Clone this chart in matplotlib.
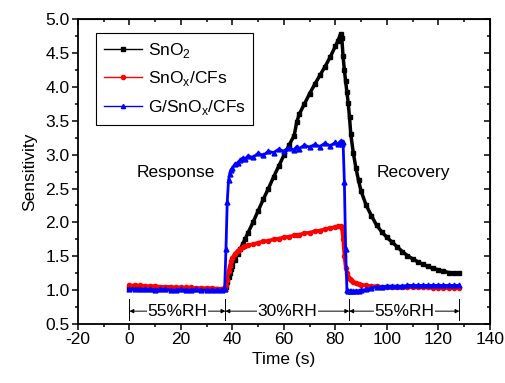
import matplotlib
matplotlib.use("Agg")
import matplotlib.pyplot as plt
from matplotlib.lines import Line2D
from matplotlib.ticker import MultipleLocator

plt.rcParams['font.family'] = ['Liberation Sans', 'DejaVu Sans']
plt.rcParams['mathtext.fontset'] = 'custom'
plt.rcParams['mathtext.rm'] = 'Liberation Sans'
plt.rcParams['axes.unicode_minus'] = False

# time axis (s)
t = [0, 2, 4, 6, 8, 10, 12, 14, 16, 18, 20, 22, 24, 26, 28, 30, 32, 34, 36,
     37, 37.5, 38, 38.5, 39, 39.5, 40, 41, 42, 43, 44, 45, 46,
     48, 50, 52, 54, 56, 58, 60, 62, 64, 65, 66, 68, 70, 72, 74, 76, 78, 80,
     81, 82, 82.5, 83, 83.5, 84, 84.5, 85, 85.5, 86, 87, 88, 89, 90,
     92, 94, 96, 98, 100, 102, 104, 106, 108, 110, 112, 114, 116, 118, 120,
     122, 124, 126, 128]

sno2 = [1.03, 1.03, 1.02, 1.02, 1.02, 1.02, 1.02, 1.02, 1.01, 1.01, 1.01, 1.01,
        1.01, 1.01, 1.01, 1.01, 1.01, 1.01, 1.01,
        1.02, 1.05, 1.12, 1.19, 1.25, 1.31, 1.36, 1.45, 1.53, 1.60, 1.68, 1.76, 1.84,
        2.00, 2.17, 2.34, 2.50, 2.67, 2.83, 2.99, 3.14, 3.28, 3.48, 3.60, 3.75,
        3.90, 4.04, 4.17, 4.30, 4.44, 4.60,
        4.68, 4.78, 4.72, 4.45, 4.25, 4.08, 3.92, 3.76, 3.55, 3.30, 3.02, 2.80,
        2.62, 2.46,
        2.25, 2.10, 1.96, 1.86, 1.78, 1.71, 1.64, 1.57, 1.51, 1.46, 1.42, 1.38,
        1.35, 1.32, 1.30, 1.28, 1.26, 1.25, 1.25]

snox_cfs = [1.07, 1.07, 1.07, 1.06, 1.06, 1.06, 1.05, 1.05, 1.05, 1.04, 1.04,
            1.04, 1.04, 1.03, 1.03, 1.03, 1.03, 1.02, 1.02,
            1.03, 1.08, 1.15, 1.28, 1.36, 1.43, 1.48, 1.54, 1.58, 1.61, 1.63, 1.65, 1.66,
            1.68, 1.70, 1.72, 1.73, 1.75, 1.76, 1.78, 1.79, 1.81, 1.81, 1.82, 1.84,
            1.85, 1.87, 1.88, 1.90, 1.92, 1.93,
            1.94, 1.95, 1.92, 1.75, 1.50, 1.33, 1.25, 1.20, 1.17, 1.15, 1.12, 1.10,
            1.09, 1.08,
            1.07, 1.06, 1.06, 1.05, 1.05, 1.05, 1.05, 1.04, 1.04, 1.04, 1.04, 1.04,
            1.04, 1.03, 1.03, 1.03, 1.03, 1.03, 1.03]

g_snox_cfs = [1.01, 1.01, 1.01, 1.01, 1.01, 1.00, 1.01, 1.01, 1.00, 1.00, 1.01,
              1.00, 1.00, 1.01, 1.00, 1.00, 1.00, 1.00, 1.00,
              1.02, 1.60, 2.30, 2.62, 2.72, 2.78, 2.80, 2.86, 2.88, 2.92, 2.95, 2.93, 2.98,
              2.96, 3.02, 2.99, 3.05, 3.03, 3.08, 3.05, 3.10, 3.07, 3.12, 3.09, 3.14,
              3.11, 3.15, 3.12, 3.17, 3.13, 3.18,
              3.15, 3.20, 3.16, 3.18, 2.60, 1.60, 1.00, 0.98, 0.98, 0.98, 0.98, 0.99,
              0.99, 1.00,
              1.01, 1.03, 1.05, 1.05, 1.06, 1.06, 1.06, 1.06, 1.07, 1.07, 1.07, 1.07,
              1.07, 1.07, 1.07, 1.07, 1.07, 1.07, 1.07]

# humidity segments: boundaries and labels
rh_edges = [0, 37.3, 85.4, 128.2]
rh_labels = ['55%RH', '30%RH', '55%RH']

FS = 12.5

fig = plt.figure(figsize=(5.06, 3.83), dpi=100)
ax = fig.add_axes([0.154, 0.154, 0.814, 0.796])

ax.plot(t, sno2, color='black', lw=2.5, marker='s', ms=3, zorder=3)
ax.plot(t, snox_cfs, color='red', lw=2.5, marker='o', ms=3, zorder=3)
ax.plot(t, g_snox_cfs, color='blue', lw=2.0, marker='^', ms=3.5, zorder=4)

ax.set_xlim(-20, 140)
ax.set_ylim(0.5, 5.0)
ax.xaxis.set_major_locator(MultipleLocator(20))
ax.xaxis.set_minor_locator(MultipleLocator(10))
ax.yaxis.set_major_locator(MultipleLocator(0.5))
ax.yaxis.set_minor_locator(MultipleLocator(0.25))
ax.yaxis.set_major_formatter(plt.FormatStrFormatter('%.1f'))
ax.tick_params(which='both', direction='out', labelsize=FS, width=1.1, pad=2)
ax.tick_params(which='major', length=4)
ax.tick_params(which='minor', length=2.5)
for s in ax.spines.values():
    s.set_linewidth(1.3)

# mirrored inward ticks on top/right
sec = ax.secondary_xaxis('top')
sec.xaxis.set_major_locator(MultipleLocator(20))
sec.xaxis.set_minor_locator(MultipleLocator(10))
sec.tick_params(which='both', direction='in', labeltop=False, width=1.1)
sec.tick_params(which='major', length=4)
sec.tick_params(which='minor', length=2.5)
secy = ax.secondary_yaxis('right')
secy.yaxis.set_major_locator(MultipleLocator(0.5))
secy.yaxis.set_minor_locator(MultipleLocator(0.25))
secy.tick_params(which='both', direction='in', labelright=False, width=1.1)
secy.tick_params(which='major', length=4)
secy.tick_params(which='minor', length=2.5)

ax.set_xlabel('Time (s)', fontsize=FS, labelpad=3)
ax.set_ylabel('Sensitivity', fontsize=FS, labelpad=6)

# humidity annotations
for e in rh_edges:
    ax.plot([e, e], [0.56, 0.87], color='black', lw=0.7)
for i, lab in enumerate(rh_labels):
    x0, x1 = rh_edges[i], rh_edges[i + 1]
    ax.annotate('', xy=(x0, 0.69), xytext=(x1, 0.69),
                arrowprops=dict(arrowstyle='<|-|>', lw=0.7, color='black',
                                mutation_scale=6, shrinkA=0, shrinkB=0))
    ax.text((x0 + x1) / 2, 0.69, lab, ha='center', va='center', fontsize=FS,
            bbox=dict(facecolor='white', edgecolor='none', pad=0.3))

ax.text(18, 2.74, 'Response', ha='center', va='center', fontsize=FS)
ax.text(110.5, 2.74, 'Recovery', ha='center', va='center', fontsize=FS)

handles = [
    Line2D([], [], color='black', lw=1, marker='s', ms=3),
    Line2D([], [], color='red', lw=1, marker='o', ms=3),
    Line2D([], [], color='blue', lw=1, marker='^', ms=3),
]
labels = [r'SnO$_\mathregular{2}$', r'SnO$_\mathregular{x}$/CFs',
          r'G/SnO$_\mathregular{x}$/CFs']
leg = ax.legend(handles, labels, loc='upper left', bbox_to_anchor=(0.045, 0.955),
                fontsize=FS, fancybox=False, edgecolor='black', framealpha=1,
                handlelength=2.2, handletextpad=0.3, borderpad=0.45,
                labelspacing=0.55, borderaxespad=0)
leg.get_frame().set_linewidth(0.8)

fig.savefig('out.png', dpi=100)
